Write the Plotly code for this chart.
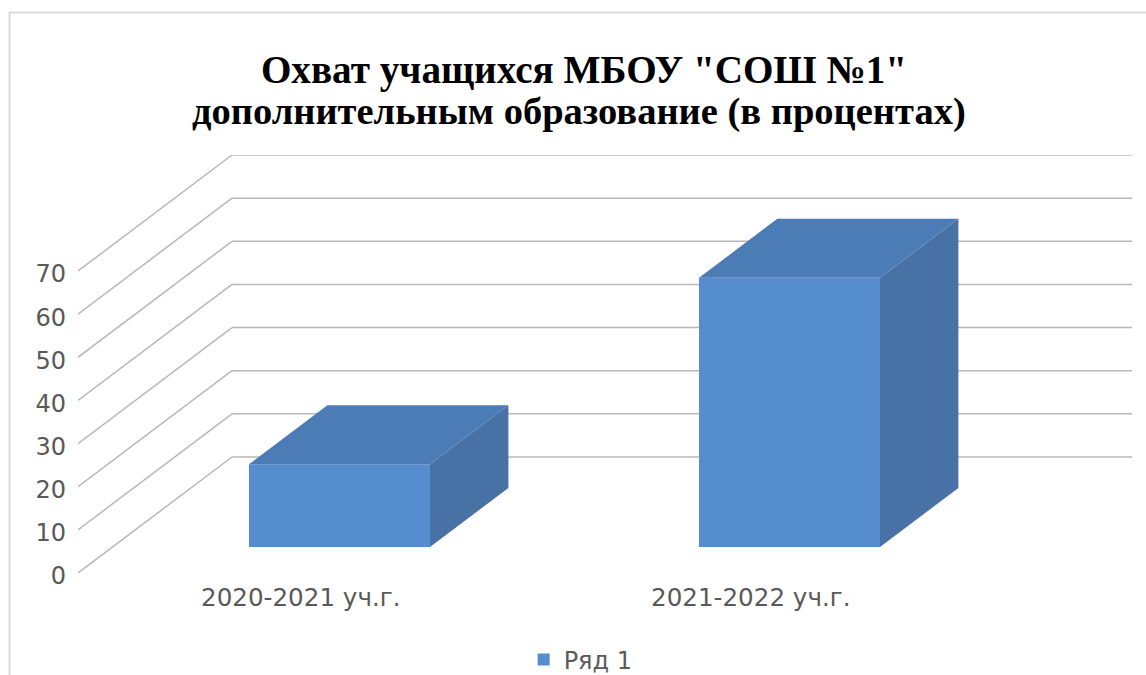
import plotly.graph_objects as go

categories = ["2020-2021 уч.г.", "2021-2022 уч.г."]
values = [19.2, 62.4]
series_name = "Ряд 1"
y_ticks = [0, 10, 20, 30, 40, 50, 60, 70]
title_lines = ['Охват учащихся МБОУ "СОШ №1"', "дополнительным образование (в процентах)"]

W, H = 1146, 675
L, R, T, B = 78, 1133, 155, 573
PX_X = 450.0      # pixels per category
PX_Y = 4.314      # pixels per value unit
DX = 154 / PX_X   # floor depth in x units
DY = 116 / PX_Y   # floor depth in y units
BAR_W = 181 / PX_X
D0, D1 = 0.224, 0.733
X_NUDGE = 2 / PX_X

FRONT, TOP, SIDE = "#558dcf", "#4c7cb6", "#4872a6"
GRID = "#b8b8b8"
TXT = "#595959"
TITLE_FONT_1 = dict(family="Liberation Serif", size=39.2, color="#000000", weight="bold")
TITLE_FONT_2 = dict(family="Liberation Serif", size=38.5, color="#000000", weight="bold")

fig = go.Figure()

shapes = []
for v in y_ticks:
    shapes.append(dict(type="line", xref="x", yref="y", layer="below", x0=0, y0=v, x1=DX, y1=v + DY,
                       line=dict(color=GRID, width=1.5)))
    shapes.append(dict(type="line", xref="x", yref="y", layer="below", x0=DX, y0=v + DY, x1=DX + 2, y1=v + DY,
                       line=dict(color=GRID, width=1.5)))
shapes.append(dict(type="rect", xref="paper", yref="paper", layer="below",
                   x0=(9.5 - L) / (R - L), x1=1.2, y0=-0.5, y1=(573 - 12.5) / (573 - 155),
                   line=dict(color="#d9d9d9", width=2), fillcolor="rgba(0,0,0,0)"))

x_centers = [i + 0.5 + D0 * DX + X_NUDGE for i in range(len(categories))]
fig.add_trace(go.Bar(x=x_centers, y=values, base=[D0 * DY] * len(values), width=BAR_W,
                     name=series_name, marker=dict(color=FRONT, line=dict(width=0)), showlegend=True))

for xc, v in zip(x_centers, values):
    xl, xr = xc - BAR_W / 2, xc + BAR_W / 2
    b0 = D0 * DY
    t0 = b0 + v
    ddx, ddy = (D1 - D0) * DX, (D1 - D0) * DY
    fig.add_trace(go.Scatter(x=[xl, xr, xr + ddx, xl + ddx, xl], y=[t0, t0, t0 + ddy, t0 + ddy, t0],
                             mode="lines", fill="toself", fillcolor=TOP, line=dict(width=0, color=TOP),
                             showlegend=False, hoverinfo="skip"))
    fig.add_trace(go.Scatter(x=[xr, xr + ddx, xr + ddx, xr, xr], y=[b0, b0 + ddy, t0 + ddy, t0, b0],
                             mode="lines", fill="toself", fillcolor=SIDE, line=dict(width=0, color=SIDE),
                             showlegend=False, hoverinfo="skip"))

fig.update_layout(
    width=W, height=H, autosize=False,
    margin=dict(l=L, r=W - R, t=T, b=H - B),
    paper_bgcolor="white", plot_bgcolor="rgba(0,0,0,0)",
    shapes=shapes,
    title=dict(text=title_lines[0], x=584 / W, xanchor="center", xref="container",
               y=1 - 69 / H, yanchor="middle", yref="container", font=TITLE_FONT_1),
    annotations=[dict(text=title_lines[1], xref="paper", yref="paper", showarrow=False,
                      x=(578.5 - L) / (R - L), xanchor="center",
                      y=(B - 111.5) / (B - T), yanchor="middle", font=TITLE_FONT_2)],
    font=dict(family="DejaVu Sans", color=TXT),
    xaxis=dict(range=[0, (R - L) / PX_X], tickmode="array", tickvals=[0.495, 1.495], ticktext=categories,
               showgrid=False, zeroline=False, showline=False, ticks="", tickfont=dict(size=24.6, color=TXT),
               ticklabelstandoff=7, fixedrange=True),
    yaxis=dict(range=[0, (B - T) / PX_Y], tickmode="array", tickvals=y_ticks, showgrid=False, zeroline=False,
               showline=False, ticks="", tickfont=dict(size=24, color=TXT), ticklabelstandoff=11,
               ticklabelshift=3, fixedrange=True),
    legend=dict(x=546 / W, xanchor="center", xref="paper", y=1 - 660 / H, yanchor="middle", yref="container",
                font=dict(size=24, color=TXT), bgcolor="rgba(0,0,0,0)", orientation="h"),
    showlegend=True,
    barmode="overlay",
)

fig.write_html("out.html", config=dict(displayModeBar=False), post_script="document.body.style.margin='0';")
